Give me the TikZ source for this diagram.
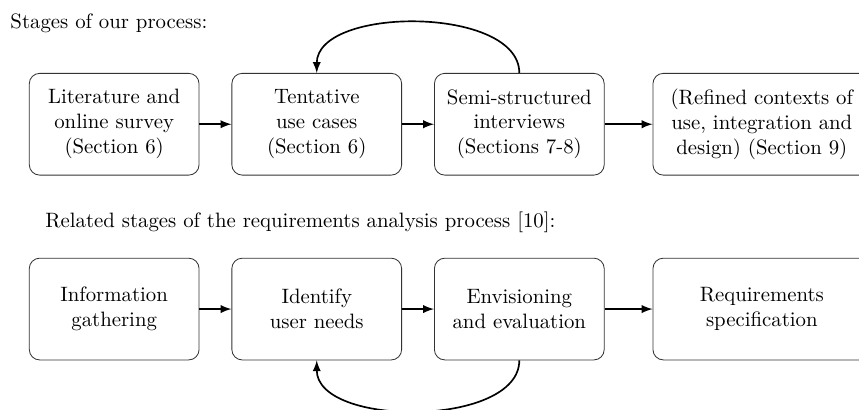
\documentclass[tikz,border=0pt]{standalone}
\usetikzlibrary{positioning}

\begin{document}
\begin{tikzpicture}[
    stage/.style={rectangle, rounded corners=5pt, draw=black!80, minimum width=2.87cm, minimum height=1.72cm, align=center, inner sep=2pt},
    widestage/.style={stage, minimum width=3.68cm},
    heading/.style={anchor=base west, inner sep=0pt},
    flow/.style={->, >=latex, thick}
]
    \useasboundingbox (0,0) rectangle (14.52,-6.93);

    % our process
    \node [heading] (our_title) at (0.17,-0.49) {Stages of our process:};
    \node [stage] (lit_survey) at (1.93,-2.10) {Literature and\\online survey\\(Section 6)};
    \node [stage, right=0.54cm of lit_survey] (use_cases) {Tentative\\use cases\\(Section 6)};
    \node [stage, right=0.54cm of use_cases] (interviews) {Semi-structured\\interviews\\(Sections 7-8)};
    \node [widestage, right=0.81cm of interviews] (refined) {(Refined contexts of\\use, integration and\\design) (Section 9)};

    \draw [flow] (lit_survey) -- (use_cases);
    \draw [flow] (use_cases) -- (interviews);
    \draw [flow] (interviews) -- (refined);
    \draw [flow] (interviews.north) to[out=90, in=90, looseness=0.85] (use_cases.north);

    % requirements analysis
    \node [heading] (req_title) at (0.76,-3.85) {Related stages of the requirements analysis process [10]:};
    \node [stage, below=1.39cm of lit_survey] (info_gather) {Information\\gathering};
    \node [stage, right=0.54cm of info_gather] (user_needs) {Identify\\user needs};
    \node [stage, right=0.54cm of user_needs] (envisioning) {Envisioning\\and evaluation};
    \node [widestage, right=0.81cm of envisioning] (req_spec) {Requirements\\specification};

    \draw [flow] (info_gather) -- (user_needs);
    \draw [flow] (user_needs) -- (envisioning);
    \draw [flow] (envisioning) -- (req_spec);
    \draw [flow] (envisioning.south) to[out=-90, in=-90, looseness=0.85] (user_needs.south);
\end{tikzpicture}
\end{document}
